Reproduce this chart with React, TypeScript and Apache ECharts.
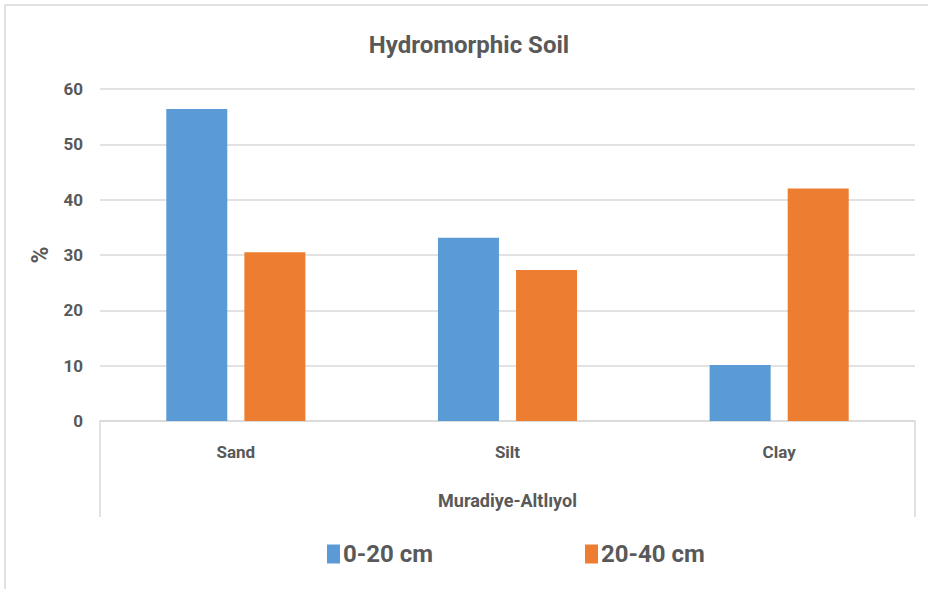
import React, { useEffect, useRef } from "react";
import * as echarts from "echarts";

const categories = ["Sand", "Silt", "Clay"];
const groupLabel = ["Muradiye-Altlıyol"];
const depth0to20 = [56.4, 33.1, 10.1];
const depth20to40 = [30.5, 27.3, 42.0];
const seriesNames = ["0-20 cm", "20-40 cm"];
const chartTitle = "Hydromorphic Soil";
const yName = "%";

const FONT = "Roboto, 'Open Sans', sans-serif";
const TXT = "#595959";
const LINE = "#d9d9d9";

export default function App() {
  const ref = useRef<HTMLDivElement>(null);
  useEffect(() => {
    if (!ref.current) return;
    const chart = echarts.init(ref.current, null, { renderer: "svg" });
    chart.setOption({
      animation: false,
      backgroundColor: "#ffffff",
      textStyle: { fontFamily: FONT },
      title: {
        text: chartTitle,
        left: 464,
        top: 28,
        textAlign: "center",
        textStyle: { fontFamily: FONT, fontSize: 24, fontWeight: "bold", color: TXT },
      },
      legend: {
        left: 322,
        top: 537,
        itemWidth: 13,
        itemHeight: 19,
        itemGap: 152,
        icon: "rect",
        data: seriesNames,
        textStyle: { fontFamily: FONT, fontSize: 24, fontWeight: "bold", color: TXT, padding: [0, 0, 0, -2] },
      },
      graphic: [
        {
          type: "rect",
          shape: { x: 5, y: 5, width: 960, height: 620 },
          style: { fill: "none", stroke: LINE, lineWidth: 1.5 },
          silent: true,
        },
      ],
      grid: { left: 100, right: 13, top: 89, bottom: 168 },
      xAxis: [
        {
          type: "category",
          data: categories,
          position: "bottom",
          axisLine: { lineStyle: { color: LINE, width: 1.5 } },
          axisTick: { show: false },
          axisLabel: { color: TXT, fontFamily: FONT, fontSize: 17, fontWeight: "bold", margin: 22 },
        },
        {
          type: "category",
          data: groupLabel,
          position: "bottom",
          axisLine: { show: false },
          axisTick: { show: true, inside: false, length: 96, lineStyle: { color: LINE, width: 1.5 } },
          axisLabel: { color: TXT, fontFamily: FONT, fontSize: 18, fontWeight: "bold", margin: 70 },
        },
      ],
      yAxis: {
        type: "value",
        min: 0,
        max: 60,
        interval: 10,
        name: yName,
        nameLocation: "middle",
        nameGap: 48,
        nameTextStyle: { color: TXT, fontFamily: FONT, fontSize: 23, fontWeight: "bold" },
        axisLine: { show: false },
        axisTick: { show: false },
        axisLabel: { color: TXT, fontFamily: FONT, fontSize: 17, fontWeight: "bold", margin: 17 },
        splitLine: { lineStyle: { color: LINE, width: 1.5 } },
      },
      series: [
        {
          name: seriesNames[0],
          type: "bar",
          data: depth0to20,
          barWidth: 61,
          barGap: "28%",
          itemStyle: { color: "#5B9BD5" },
        },
        {
          name: seriesNames[1],
          type: "bar",
          data: depth20to40,
          barWidth: 61,
          barGap: "28%",
          itemStyle: { color: "#ED7D31" },
        },
      ],
    });
    return () => chart.dispose();
  }, []);
  return <div ref={ref} style={{ width: 928, height: 589, position: "absolute", left: 0, top: 0 }} />;
}
